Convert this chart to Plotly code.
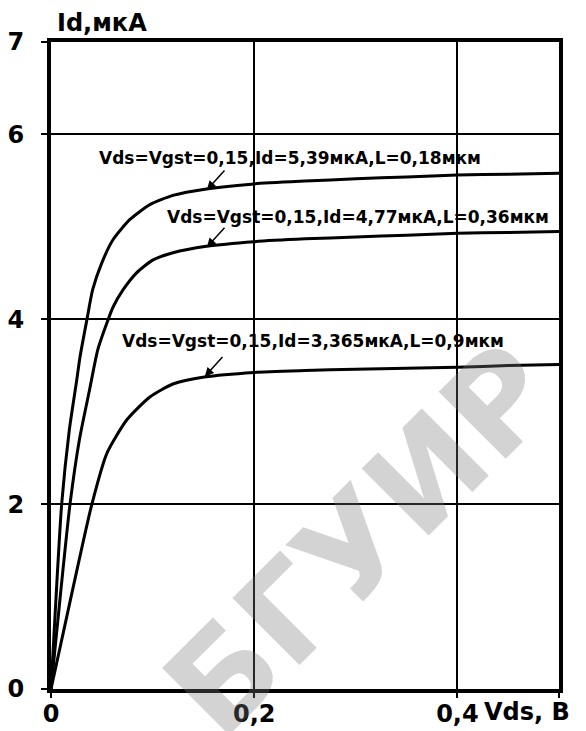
import plotly.graph_objects as go

# Id(Vds) curves
vds_018 = [0, 0.006, 0.0105, 0.018, 0.0253, 0.0285, 0.0354, 0.041, 0.05, 0.061, 0.0777, 0.0973, 0.12, 0.153,
           0.2, 0.25, 0.3, 0.35, 0.4, 0.45, 0.5]
id_018 = [0, 1.2, 2.0, 2.8, 3.34, 3.59, 4.0, 4.32, 4.61, 4.86, 5.08, 5.24, 5.34, 5.41,
          5.465, 5.495, 5.52, 5.54, 5.56, 5.57, 5.58]

vds_036 = [0, 0.01, 0.0187, 0.028, 0.038, 0.046, 0.056, 0.061, 0.071, 0.084, 0.10, 0.12, 0.153,
           0.2, 0.25, 0.3, 0.35, 0.4, 0.45, 0.5]
id_036 = [0, 1.1, 2.0, 2.7, 3.24, 3.67, 3.99, 4.13, 4.32, 4.50, 4.64, 4.72, 4.79,
          4.84, 4.87, 4.89, 4.91, 4.93, 4.94, 4.95]

vds_09 = [0, 0.022, 0.04, 0.055, 0.0745, 0.0973, 0.12, 0.151, 0.2, 0.25, 0.3, 0.35, 0.4, 0.45, 0.5]
id_09 = [0, 1.11, 1.99, 2.55, 2.91, 3.16, 3.30, 3.375, 3.425, 3.445, 3.46, 3.47, 3.48, 3.50, 3.51]

labels = ["Vds=Vgst=0,15,Id=5,39мкА,L=0,18мкм",
          "Vds=Vgst=0,15,Id=4,77мкА,L=0,36мкм",
          "Vds=Vgst=0,15,Id=3,365мкА,L=0,9мкм"]
label_x = [0.0452, 0.112, 0.0678]
label_y = [5.745, 5.107, 3.765]
arrow_x = [0.1534, 0.1534, 0.1514]
arrow_y = [5.40, 4.78, 3.38]

x_ticks = [0, 0.2, 0.4, 0.5]
x_ticktext = ["0", "0,2", "0,4", ""]
y_ticks = [0, 2, 4, 6, 7]

FONT = "DejaVu Sans"

fig = go.Figure()
for xs, ys in [(vds_018, id_018), (vds_036, id_036), (vds_09, id_09)]:
    fig.add_trace(go.Scatter(x=xs, y=ys, mode="lines",
                             line=dict(color="black", width=3, shape="spline", smoothing=0.6),
                             showlegend=False, hoverinfo="skip"))

ann = []
# watermark
ann.append(dict(text="<b>БГУИР</b>", xref="paper", yref="paper", x=0.61, y=0.23,
                xanchor="center", yanchor="middle",
                showarrow=False, textangle=-45,
                font=dict(family=FONT, size=130, color="rgba(120,120,120,0.33)")))
for t, tx, ty, px, py in zip(labels, label_x, label_y, arrow_x, arrow_y):
    ann.append(dict(text="<b>" + t + "</b>", x=tx, y=ty, xanchor="left", yanchor="middle",
                    showarrow=False, font=dict(family=FONT, size=17, color="black")))
    ann.append(dict(x=px, y=py, ax=19, ay=-21, text="", showarrow=True,
                    arrowhead=2, arrowsize=1.2, arrowwidth=1.5, arrowcolor="black"))
ann.append(dict(text="<b>Id,мкА</b>", xref="paper", yref="paper", x=0.008, y=1.029,
                xanchor="left", yanchor="middle", showarrow=False,
                font=dict(family=FONT, size=24, color="black")))
ann.append(dict(text="<b>Vds, B</b>", xref="paper", yref="paper", x=0.848, y=-0.0355,
                xanchor="left", yanchor="middle", showarrow=False,
                font=dict(family=FONT, size=24, color="black")))

# page body adds an 8px offset, so the figure is shifted back by that much
fig.update_layout(
    width=578, height=723,
    margin=dict(l=43, r=27, t=34, b=42),
    plot_bgcolor="white", paper_bgcolor="white",
    annotations=ann,
    xaxis=dict(range=[0, 0.5], tickvals=x_ticks, ticktext=x_ticktext, automargin=False,
               showgrid=True, gridcolor="black", gridwidth=2, zeroline=False,
               showline=True, linecolor="black", linewidth=4, mirror=True,
               ticks="outside", ticklen=5, tickwidth=2, tickcolor="black",
               ticklabelstandoff=-5,
               tickfont=dict(family=FONT, size=24, color="black", weight="bold")),
    yaxis=dict(range=[0, 7], tickvals=y_ticks, automargin=False,
               showgrid=True, gridcolor="black", gridwidth=2, zeroline=False,
               showline=True, linecolor="black", linewidth=4, mirror=True,
               ticks="outside", ticklen=6, tickwidth=2, tickcolor="black",
               ticklabelstandoff=12,
               tickfont=dict(family=FONT, size=24, color="black", weight="bold")),
)

fig.write_html("out.html")
